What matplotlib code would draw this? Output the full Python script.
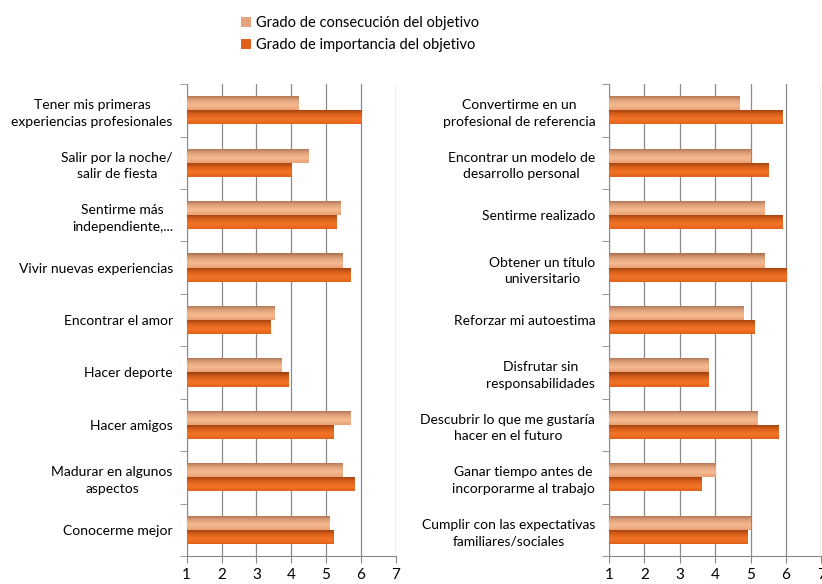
import matplotlib.pyplot as plt
import numpy as np
from matplotlib.colors import LinearSegmentedColormap
from matplotlib.patches import Patch

plt.rcParams['font.family'] = ['Lato', 'DejaVu Sans']

left_labels = ['Tener mis primeras\nexperiencias profesionales',
               'Salir por la noche/\nsalir de fiesta',
               'Sentirme más\nindependiente,...',
               'Vivir nuevas experiencias',
               'Encontrar el amor',
               'Hacer deporte',
               'Hacer amigos',
               'Madurar en algunos\naspectos',
               'Conocerme mejor']
left_logro = [4.2, 4.5, 5.4, 5.45, 3.5, 3.7, 5.7, 5.45, 5.1]
left_importancia = [6.0, 4.0, 5.3, 5.7, 3.4, 3.9, 5.2, 5.8, 5.2]

right_labels = ['Convertirme en un\nprofesional de referencia',
                'Encontrar un modelo de\ndesarrollo personal',
                'Sentirme realizado',
                'Obtener un título\nuniversitario',
                'Reforzar mi autoestima',
                'Disfrutar sin\nresponsabilidades',
                'Descubrir lo que me gustaría\nhacer en el futuro',
                'Ganar tiempo antes de\nincorporarme al trabajo',
                'Cumplir con las expectativas\nfamiliares/sociales']
right_logro = [4.7, 5.0, 5.4, 5.4, 4.8, 3.8, 5.2, 4.0, 5.0]
right_importancia = [5.9, 5.5, 5.9, 6.0, 5.1, 3.8, 5.8, 3.6, 4.9]

legend_labels = ['Grado de consecución del objetivo',
                 'Grado de importancia del objetivo']
xticks = [1, 2, 3, 4, 5, 6, 7]

# vertical gradients (top -> bottom) imitating the original 3D-ish bars
cmap_light = LinearSegmentedColormap.from_list('light', ['#a87050', '#e0a27a', '#f6b990', '#eaa175'])
cmap_dark = LinearSegmentedColormap.from_list('dark', ['#9a3e0c', '#d9601c', '#f27526', '#e3621a'])
grad = np.linspace(0, 1, 64).reshape(-1, 1)

fig = plt.figure(figsize=(8.22, 5.84), dpi=100)
ax1 = fig.add_axes([0.2271, 0.048, 0.2543, 0.808])
ax2 = fig.add_axes([0.7409, 0.048, 0.2584, 0.808])

h = 0.27


def draw(ax, labels, logro, imp):
    y = np.arange(len(labels))
    for vals, off, cmap, base in [(logro, -h / 2, cmap_light, '#eba57a'),
                                   (imp, h / 2, cmap_dark, '#e4661e')]:
        bars = ax.barh(y + off, np.array(vals) - 1, left=1, height=h, color=base, zorder=2)
        for b in bars:
            x0, y0 = b.get_x(), b.get_y()
            # y axis is inverted, so the top of the bar is y0
            im = ax.imshow(grad, cmap=cmap, aspect='auto', zorder=3, origin='upper',
                           extent=(x0, x0 + b.get_width(), y0 + b.get_height(), y0))
            im.set_clip_path(b)
    ax.set_xlim(1, 7)
    ax.set_ylim(len(labels) - 0.5, -0.5)
    ax.set_xticks(xticks)
    ax.set_xticklabels([str(t) for t in xticks], fontsize=11)
    ax.set_yticks(y)
    ax.set_yticklabels(labels, fontsize=10)
    for t in ax.get_yticklabels():
        t.set_multialignment('center')
        t.set_linespacing(1.45)
    ax.set_yticks(np.arange(len(labels) + 1) - 0.5, minor=True)
    ax.tick_params(axis='y', which='major', length=0, pad=10)
    ax.tick_params(axis='y', which='minor', length=5, color='#8a8a8a')
    ax.tick_params(axis='x', length=5, color='#8a8a8a', pad=4)
    ax.grid(axis='x', color='#8a8a8a', linewidth=0.9, zorder=0)
    ax.set_axisbelow(True)
    for s in ['top', 'right']:
        ax.spines[s].set_visible(False)
    for s in ['left', 'bottom']:
        ax.spines[s].set_color('#8a8a8a')


draw(ax1, left_labels, left_logro, left_importancia)
draw(ax2, right_labels, right_logro, right_importancia)

handles = [Patch(facecolor='#e6a27c'), Patch(facecolor='#e0601c')]
fig.legend(handles, legend_labels, loc='upper left', bbox_to_anchor=(0.277, 0.995),
           frameon=False, fontsize=10.5, handlelength=0.7, handleheight=0.7,
           handletextpad=0.35, labelspacing=0.55)

fig.savefig('out.png', dpi=100)
